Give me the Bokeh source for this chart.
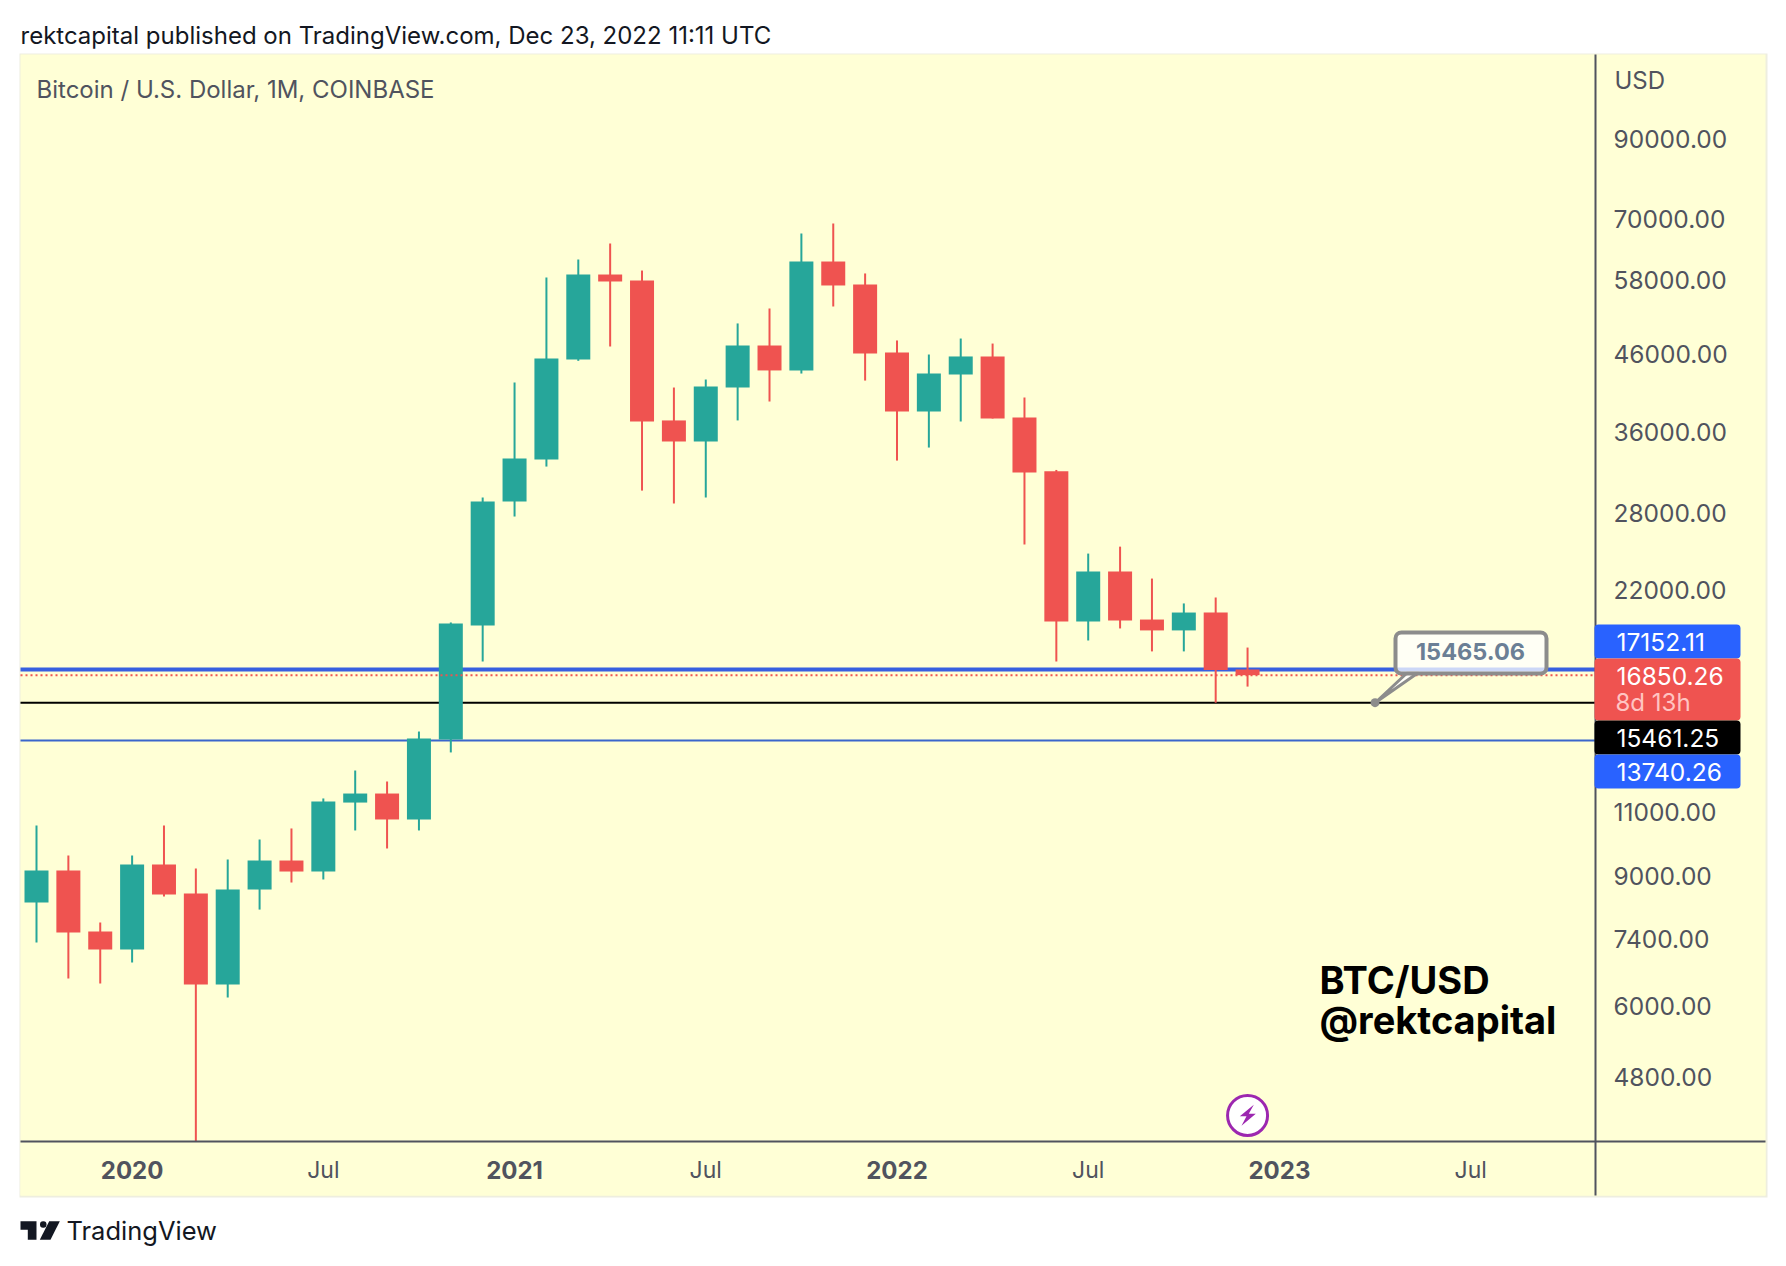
from math import exp
from bokeh.plotting import figure
from bokeh.models import (Range1d, FixedTicker, NumeralTickFormatter, Label, BoxAnnotation,
                          PolyAnnotation, ColumnDataSource)
from bokeh.embed import file_html
from bokeh.resources import INLINE

# Monthly candles, Oct 2019 .. Dec 2022 (index 0 .. 38)
opens = [8281, 9152, 7564, 7150, 9325, 8517, 6410, 8624, 9442, 9123, 11317, 11641, 10734,
         13782, 19680, 28996, 33062, 45180, 58936, 57830, 37354, 34975, 41400, 47210,
         43670, 61380, 57130, 46200, 38420, 43120, 45620, 37700, 31880, 19930, 23296,
         20050, 19380, 20494, 17152]
closes = [9152, 7540, 7150, 9325, 8492, 6410, 8624, 9442, 9123, 11355, 11641, 10734, 13823,
          19800, 28996, 33168, 45334, 58936, 57665, 37230, 34975, 41520, 47210, 43670,
          61380, 56950, 46040, 38420, 43250, 45620, 37580, 31750, 19930, 23296, 19990,
          19380, 20494, 17130, 16850]
highs = [10535, 9592, 7780, 9592, 10535, 9209, 9471, 10083, 10437, 11463, 12509, 12087, 14130,
         19868, 29359, 42057, 58390, 61765, 64940, 59672, 41400, 42450, 50580, 53000,
         66990, 69120, 59130, 47960, 45900, 48250, 47500, 40130, 32000, 24640, 25180,
         22790, 21085, 21480, 18370]
lows = [7309, 6530, 6430, 6866, 8440, 3850, 6154, 8100, 8815, 8899, 10372, 9804, 10372,
        13236, 17586, 27665, 32340, 45000, 47063, 30000, 28815, 29359, 37354, 39630,
        43250, 53330, 42310, 32950, 34320, 37230, 37580, 25350, 17586, 18780, 19500,
        18150, 18150, 15461, 16260]

price_ticks = [90000, 70000, 58000, 46000, 36000, 28000, 22000, 11000, 9000, 7400, 6000, 4800]
month_ticks = [9, 21, 33, 45]
month_labels = {9: "Jul", 21: "Jul", 33: "Jul", 45: "Jul"}
year_ticks = [3, 15, 27, 39]
year_labels = ["2020", "2021", "2022", "2023"]
resistance = 17152.11
support = 13740.26
last_close = 16850.26
low_line = 15461.25
callout_value = "15465.06"
callout_price = 15465.06
callout_index = 42.0
event_index = 38
event_price = 4257

# calibration of the reference canvas
X0, DX, Y0, P0, K = 36.0, 31.87, 669.0, 17152.11, 320.0


def xd(px):
    return (px - X0) / DX


def yd(py):
    return P0 * exp((Y0 - py) / K)


GREEN, RED = "#26a69a", "#ef5350"
BG = "#ffffd6"
AXIS = "#50535e"
FONT = "Inter"
PANE_R, PANE_B = 1595, 1141
CARD_R, CARD_B = 1765, 1195

W, H = 1778, 1258
p = figure(width=W, height=H, output_backend="svg", toolbar_location=None,
           y_axis_type="log", y_axis_location="right",
           x_range=Range1d(xd(0), xd(W)), y_range=Range1d(yd(H), yd(0)),
           min_border_left=0, min_border_right=0, min_border_top=0, min_border_bottom=0)
p.grid.visible = False
p.outline_line_color = None
p.background_fill_color = "#ffffff"
p.border_fill_color = "#ffffff"


def box(l, r, t, b, color, radius=0, level="underlay", line=None, lw=0, alpha=1.0):
    a = BoxAnnotation(left=xd(l), right=xd(r), top=yd(t), bottom=yd(b),
                      fill_color=color, fill_alpha=alpha, line_color=line, line_width=lw,
                      line_alpha=1.0, level=level, border_radius=radius, editable=False)
    p.add_layout(a)
    return a


def label(px, py, text, size, color, align="left", style="normal", level="overlay"):
    p.add_layout(Label(x=xd(px), y=yd(py), text=text, text_font=FONT,
                       text_font_size=f"{size}px", text_color=color, text_align=align,
                       text_baseline="middle", text_font_style=style, level=level))


# card
box(19, CARD_R + 2, 53, CARD_B + 2, "#eeeedf")
box(20, CARD_R, 54, CARD_B, BG)


def level_line(price, color, width, level="glyph", dash="solid"):
    p.segment([xd(20)], [price], [xd(PANE_R)], [price], line_color=color, line_width=width,
              line_dash=dash, level=level)


# horizontal levels
level_line(resistance, "#3760e0", 4)
level_line(support, "#3a66cc", 2)
level_line(low_line, "#000000", 2)

# candles
colors = [GREEN if c >= o else RED for o, c in zip(opens, closes)]
src = ColumnDataSource(dict(
    x=list(range(len(opens))),
    top=[max(o, c) for o, c in zip(opens, closes)],
    bottom=[min(o, c) for o, c in zip(opens, closes)],
    high=highs, low=lows, color=colors))
p.segment("x", "high", "x", "low", source=src, line_color="color", line_width=2)
p.vbar("x", width=24 / DX, top="top", bottom="bottom", source=src, fill_color="color", line_color=None)

level_line(last_close, RED, 2, level="overlay", dash="2 3")

# panes over the candles (the March 2020 wick runs off the bottom of the chart pane)
box(20, CARD_R, PANE_B, CARD_B, BG, level="guide")

# axes
ax = p.yaxis[0]
ax.fixed_location = xd(PANE_R)
ax.level = "annotation"
ax.ticker = FixedTicker(ticks=price_ticks)
ax.formatter = NumeralTickFormatter(format="0.00")
ax.major_tick_line_color = None
ax.minor_tick_line_color = None
ax.axis_line_color = None
ax.major_label_text_font = FONT
ax.major_label_text_font_size = "24.5px"
ax.major_label_text_color = AXIS
ax.major_label_standoff = 12

bx = p.xaxis[0]
bx.fixed_location = yd(PANE_B)
bx.level = "annotation"
bx.ticker = FixedTicker(ticks=month_ticks)
bx.major_label_overrides = month_labels
bx.major_tick_line_color = None
bx.minor_tick_line_color = None
bx.axis_line_color = None
bx.major_label_text_font = FONT
bx.major_label_text_font_size = "23px"
bx.major_label_text_color = AXIS
bx.major_label_standoff = 8

for t, s in zip(year_ticks, year_labels):
    p.add_layout(Label(x=t, y=yd(1169), text=s, text_font=FONT, text_font_size="24px",
                       text_font_style="bold", text_color=AXIS, text_align="center",
                       text_baseline="middle"))

# pane separators
box(20, CARD_R, PANE_B - 1, PANE_B + 1, AXIS, level="overlay")
box(PANE_R - 1, PANE_R + 1, 54, CARD_B, AXIS, level="overlay")

# price tags
TAGS = [(1594, 624, 658, "#2962ff", str(resistance), 641),
        (1594, 658, 720, "#ef5350", f"{last_close:.2f}", 675),
        (1594, 720, 754, "#000000", f"{low_line:.2f}", 737),
        (1594, 754, 788, "#2962ff", f"{support:.2f}", 771)]
for l, t, b, c, s, cy in TAGS:
    box(l, 1740, t, b, c, radius=4, level="overlay")
    label(1616, cy, s, 24.5, "#ffffff")
label(1615, 702, "8d 13h", 24, "#ffc4c2")

# headings
label(20, 35, "rektcapital published on TradingView.com, Dec 23, 2022 11:11 UTC", 24, "#131722")
label(36, 89, "Bitcoin / U.S. Dollar, 1M, COINBASE", 24, "#50535e")
label(1614, 80, "USD", 24, AXIS)
label(1319, 979, "BTC/USD", 38, "#000000", style="bold")
label(1319, 1019, "@rektcapital", 38, "#000000", style="bold")

# callout
tail = PolyAnnotation(xs=[xd(1375), xd(1407), xd(1418)], ys=[yd(702), yd(672), yd(672)],
                      fill_color="#ffffff", fill_alpha=0.85, line_color="#8c8c8c", line_width=3,
                      line_alpha=1.0, level="overlay")
p.add_layout(tail)
box(1395, 1546, 632, 673, "#ffffff", radius=6, level="overlay", line="#8c8c8c", lw=4, alpha=0.75)
label(1470, 651, callout_value, 23.5, "#6b7f95", align="center", style="bold")
p.scatter([callout_index], [callout_price], size=9, fill_color="#8c8c8c", line_color=None, level="overlay")

# event marker
p.scatter([event_index], [event_price], size=40, fill_color="#ffffff", line_color="#9c27b0",
          line_width=3, level="overlay")
bolt = [(1253.3, 1104.3), (1239.3, 1115.7), (1246, 1115.7), (1241, 1125.3), (1255.3, 1113.3), (1248.3, 1113.3)]
p.add_layout(PolyAnnotation(xs=[xd(a) for a, _ in bolt], ys=[yd(b) for _, b in bolt],
                            fill_color="#9c27b0", fill_alpha=1, line_color=None, level="overlay"))

# logo
LOGO = "#131722"
tv1 = [(20, 1220.7), (36, 1220.7), (36, 1239.3), (27.3, 1239.3), (27.3, 1229.3), (20, 1229.3)]
tv2 = [(59.3, 1220.7), (50, 1239.3), (39.3, 1239.3), (48.7, 1220.7)]
for poly in (tv1, tv2):
    p.add_layout(PolyAnnotation(xs=[xd(a) for a, _ in poly], ys=[yd(b) for _, b in poly],
                                fill_color=LOGO, fill_alpha=1, line_color=None, level="overlay"))
box(39.5, 46, 1220.7, 1227.3, LOGO, radius=3, level="overlay")
label(66, 1230, "TradingView", 25.5, LOGO)

open("out.html", "w").write(file_html(p, INLINE))
